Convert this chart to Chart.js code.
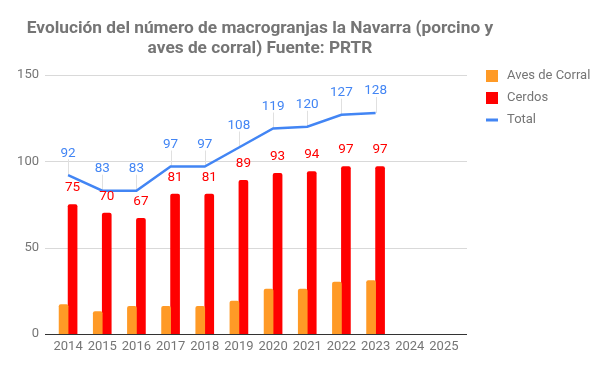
<!DOCTYPE html>
<html>
<head>
<meta charset="utf-8">
<script src="https://cdn.jsdelivr.net/npm/chart.js@4/dist/chart.umd.min.js"></script>
<style>
html,body{margin:0;padding:0;background:#fff;}
#wrap{width:605px;height:370px;position:relative;}
</style>
</head>
<body>
<div id="wrap"><canvas id="c" width="605" height="370"></canvas></div>
<script>
const titleLines = ['Evolución del número de macrogranjas la Navarra (porcino y', 'aves de corral) Fuente: PRTR'];
const years = ['2014','2015','2016','2017','2018','2019','2020','2021','2022','2023','2024','2025'];
const aves = [17,13,16,16,16,19,26,26,30,31,null,null];
const cerdos = [75,70,67,81,81,89,93,94,97,97,null,null];
const total = [92,83,83,97,97,108,119,120,127,128,null,null];
const yTicks = [0,50,100,150];
const seriesNames = ['Aves de Corral','Cerdos','Total'];

const FONT = 'Roboto, "Noto Sans", sans-serif';
const GREY = '#757575';

const customPlugin = {
  id: 'custom',
  beforeDatasetsDraw(chart) {
    const ctx = chart.ctx;
    const ys = chart.scales.y;
    const a = chart.chartArea;
    ctx.save();
    ctx.strokeStyle = '#d9d9d9';
    ctx.lineWidth = 1;
    yTicks.forEach(v => {
      if (v === 0) return;
      const y = Math.round(ys.getPixelForValue(v)) + 0.5;
      ctx.beginPath();
      ctx.moveTo(a.left - 6, y);
      ctx.lineTo(a.right + 6, y);
      ctx.stroke();
    });
    const meta = chart.getDatasetMeta(2);
    ctx.strokeStyle = '#e0e0e0';
    meta.data.forEach((p, i) => {
      if (total[i] == null) return;
      const x = Math.round(p.x) + 0.5;
      ctx.beginPath();
      ctx.moveTo(x, p.y);
      ctx.lineTo(x, p.y - 16);
      ctx.stroke();
    });
    ctx.restore();
  },
  afterDatasetsDraw(chart) {
    const ctx = chart.ctx;
    const a = chart.chartArea;
    ctx.save();
    const y0 = Math.round(chart.scales.y.getPixelForValue(0)) + 0.5;
    ctx.strokeStyle = '#333';
    ctx.lineWidth = 1;
    ctx.beginPath();
    ctx.moveTo(a.left - 6, y0);
    ctx.lineTo(a.right + 6, y0);
    ctx.stroke();
    ctx.textAlign = 'center';
    ctx.textBaseline = 'middle';
    const mc = chart.getDatasetMeta(1);
    ctx.fillStyle = '#ff0000';
    ctx.font = '13.5px ' + FONT;
    mc.data.forEach((b, i) => {
      if (cerdos[i] == null) return;
      ctx.fillText(String(cerdos[i]), b.x, b.y - 17);
    });
    const mt = chart.getDatasetMeta(2);
    ctx.fillStyle = '#4285f4';
    ctx.font = '13.5px ' + FONT;
    mt.data.forEach((p, i) => {
      if (total[i] == null) return;
      ctx.fillText(String(total[i]), p.x, p.y - 22);
    });
    ctx.restore();
  },
  afterDraw(chart) {
    const ctx = chart.ctx;
    const a = chart.chartArea;
    ctx.save();
    ctx.fillStyle = GREY;
    ctx.font = 'bold 17.3px ' + FONT;
    ctx.textAlign = 'center';
    ctx.textBaseline = 'alphabetic';
    ctx.fillText(titleLines[0], 260, 33);
    ctx.fillText(titleLines[1], 260, 52.5);
    const lx = a.right + 25;
    const ly = [76, 98, 120];
    ctx.font = '13px ' + FONT;
    ctx.textAlign = 'left';
    ctx.textBaseline = 'middle';
    chart.data.datasets.forEach((ds, i) => {
      ctx.fillStyle = ds.legendColor;
      if (ds.type === 'line') {
        ctx.fillRect(lx, ly[i] - 1.5, 12, 3);
      } else {
        ctx.fillRect(lx, ly[i] - 6, 12, 12);
      }
      ctx.fillStyle = GREY;
      ctx.fillText(ds.label, lx + 21, ly[i]);
    });
    ctx.restore();
  }
};

new Chart(document.getElementById('c'), {
  type: 'bar',
  data: {
    labels: years,
    datasets: [
      { type: 'bar', label: seriesNames[0], data: aves, backgroundColor: '#ff9a26', legendColor: '#ff9a26',
        barThickness: 9, borderRadius: {topLeft: 2, topRight: 2}, borderSkipped: 'start', order: 2 },
      { type: 'bar', label: seriesNames[1], data: cerdos, backgroundColor: '#ff0000', legendColor: '#ff0000',
        barThickness: 9, borderRadius: {topLeft: 2, topRight: 2}, borderSkipped: 'start', order: 2 },
      { type: 'line', label: seriesNames[2], data: total, borderColor: '#4285f4', legendColor: '#4285f4',
        borderWidth: 2.5, pointRadius: 0, tension: 0, fill: false, order: 1 }
    ]
  },
  options: {
    responsive: false,
    animation: false,
    layout: { padding: { top: 75, right: 144, bottom: 0, left: 0 } },
    plugins: { legend: { display: false }, title: { display: false }, tooltip: { enabled: false } },
    datasets: { bar: { categoryPercentage: 0.6, barPercentage: 0.9 } },
    scales: {
      x: {
        grid: { display: false, drawTicks: false },
        border: { display: false },
        ticks: { color: GREY, font: { family: FONT, size: 13 }, padding: 5, maxRotation: 0, autoSkip: false },
        afterFit(s) { s.height = 36; }
      },
      y: {
        min: 0, max: 150,
        afterBuildTicks(s) { s.ticks = yTicks.map(v => ({ value: v })); },
        grid: { display: false, drawTicks: false },
        border: { display: false },
        ticks: { color: GREY, font: { family: FONT, size: 13 }, padding: 12 },
        afterFit(s) { s.width = 51; }
      }
    }
  },
  plugins: [customPlugin]
});
</script>
</body>
</html>
